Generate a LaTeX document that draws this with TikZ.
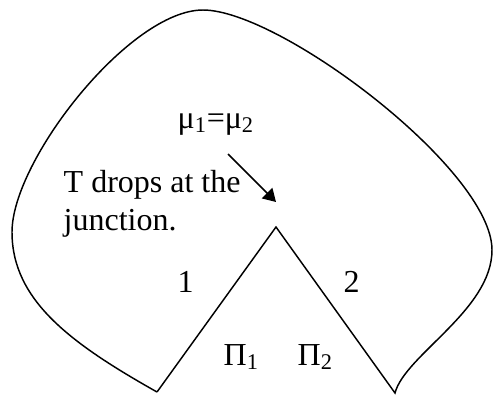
\documentclass[tikz,border=0pt]{standalone}
\usepackage{fontspec}
\setmainfont{Liberation Serif}
\usepackage{tikz}
\usetikzlibrary{arrows.meta}

\begin{document}
\begin{tikzpicture}[x=0.75pt,y=-0.75pt,line width=1.1pt,
    lbl/.style={anchor=base west,inner sep=0pt,font=\fontsize{24}{28}\selectfont}]
  \useasboundingbox (0,0) rectangle (493,394);
  % vertices of the wedge
  \coordinate (L) at (157,392);
  \coordinate (A) at (276,227);
  \coordinate (R) at (395,393);
  \draw (L) .. controls (70,343) and (12,300) .. (12,232)
        .. controls (12,160) and (130,10) .. (203,10)
        .. controls (280,10) and (492,170) .. (492,250)
        .. controls (492,310) and (405,355) .. (R)
        -- (A) -- (L);
  \node[lbl] (mu) at (177,128) {μ\textsubscript{1}=μ\textsubscript{2}};
  \node[lbl,align=left] (tdrop) at (63,230) {T drops at the\\junction.};
  \node[lbl] (one) at (177,292) {1};
  \node[lbl] (two) at (343,292) {2};
  \node[lbl] (pione) at (223,365) {Π\textsubscript{1}};
  \node[lbl] (pitwo) at (297,365) {Π\textsubscript{2}};
  \coordinate (arrfrom) at (228,154);
  \coordinate (arrto) at (276,202);
  \draw[-{Triangle[length=9.5pt,width=11pt]}] (arrfrom) -- (arrto);
\end{tikzpicture}
\end{document}
